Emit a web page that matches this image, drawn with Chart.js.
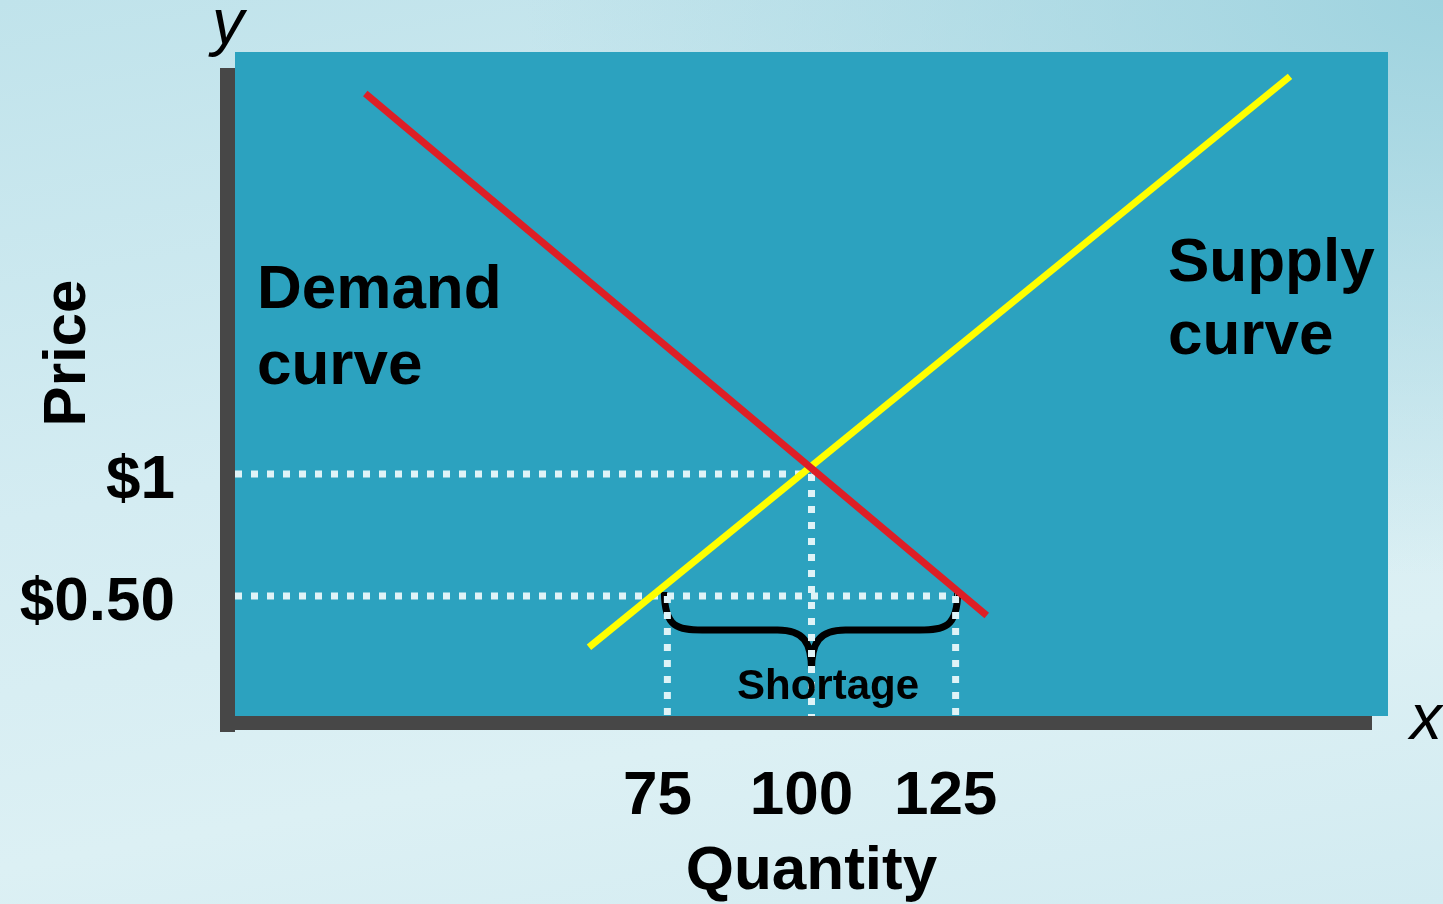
<!DOCTYPE html>
<html>
<head>
<meta charset="utf-8">
<script src="https://cdn.jsdelivr.net/npm/chart.js@4.4.0/dist/chart.umd.min.js"></script>
<style>
  html, body { margin: 0; padding: 0; }
  body {
    width: 1443px; height: 904px; overflow: hidden;
    background:
      radial-gradient(ellipse at 100% 0%, #9fd3df 0%, rgba(159,211,223,0) 45%),
      linear-gradient(170deg, #c0e3eb 0%, #d4ecf2 45%, #dcf0f4 75%, #d2ebf1 100%);
  }
  #wrap { position: absolute; left: 0; top: 0; width: 1443px; height: 904px; }
</style>
</head>
<body>
<div id="wrap"><canvas id="chart" width="1443" height="904"></canvas></div>
<script>
// line endpoints (quantity, price)
const demandQty = [22.6, 130.4];
const demandPrice = [2.56, 0.42];
const supplyQty = [61.4, 183.0];
const supplyPrice = [0.29, 2.63];

// guide values
const eqQty = 100;
const eqPrice = 1;
const lowPrice = 0.5;
const qtyDemanded = 125;
const qtySupplied = 75;

const qtyTicks = [75, 100, 125];
const qtyTickLabels = ['75', '100', '125'];
const priceTicks = [0.5, 1];
const priceTickLabels = ['$0.50', '$1'];

const FONT = "'Liberation Sans', Arial, sans-serif";
const TEAL = '#2ca2bf';
const DARK = '#474747';
const DOT = '#dff3f7';

const toPts = (xs, ys) => xs.map((x, i) => ({ x: x, y: ys[i] }));

const dotted = (data) => ({
  data: data,
  borderColor: DOT,
  borderWidth: 7,
  borderDash: [7, 9],
  pointRadius: 0,
  fill: false
});

const plotBox = {
  id: 'plotBox',
  beforeDraw(chart) {
    const { ctx, chartArea: a } = chart;
    ctx.save();
    ctx.fillStyle = DARK;
    ctx.fillRect(a.left - 15, a.top + 16, 15, a.bottom - a.top);
    ctx.fillRect(a.left - 15, a.bottom, a.right - a.left - 1, 14);
    ctx.fillStyle = TEAL;
    ctx.fillRect(a.left, a.top, a.right - a.left, a.bottom - a.top);
    ctx.restore();
  },
  beforeDatasetsDraw(chart) {
    const { ctx, scales: { x, y } } = chart;
    const xl = x.getPixelForValue(qtySupplied) - 3;
    const xr = x.getPixelForValue(qtyDemanded) + 2;
    const xm = x.getPixelForValue(eqQty);
    const y0 = y.getPixelForValue(lowPrice) - 4;
    ctx.save();
    // brace
    ctx.strokeStyle = '#000';
    ctx.lineWidth = 7;
    ctx.lineCap = 'butt';
    ctx.beginPath();
    ctx.moveTo(xl, y0);
    ctx.bezierCurveTo(xl, y0 + 36, xl + 14, y0 + 38, xl + 38, y0 + 38);
    ctx.lineTo(xm - 34, y0 + 38);
    ctx.bezierCurveTo(xm - 8, y0 + 38, xm, y0 + 50, xm, y0 + 78);
    ctx.moveTo(xm, y0 + 78);
    ctx.bezierCurveTo(xm, y0 + 50, xm + 8, y0 + 38, xm + 34, y0 + 38);
    ctx.lineTo(xr - 38, y0 + 38);
    ctx.bezierCurveTo(xr - 14, y0 + 38, xr, y0 + 36, xr, y0);
    ctx.stroke();
    ctx.restore();
  },
  afterDraw(chart) {
    const { ctx } = chart;
    ctx.save();
    ctx.fillStyle = '#000';
    ctx.textBaseline = 'alphabetic';
    ctx.textAlign = 'left';
    ctx.font = 'bold 42px ' + FONT;
    ctx.fillText('Shortage', 737, 699);
    ctx.font = 'bold 62px ' + FONT;
    ctx.fillText('Demand', 257, 308);
    ctx.fillText('curve', 257, 384);
    ctx.fillText('Supply', 1168, 281);
    ctx.fillText('curve', 1168, 354);
    ctx.font = 'italic 64px ' + FONT;
    ctx.fillText('y', 212, 44);
    ctx.fillText('x', 1410, 739);
    // rotated axis title
    ctx.font = 'bold 60px ' + FONT;
    ctx.translate(85, 353);
    ctx.rotate(-Math.PI / 2);
    ctx.textAlign = 'center';
    ctx.fillText('Price', 0, 0);
    ctx.restore();
  }
};

new Chart(document.getElementById('chart'), {
  type: 'line',
  data: {
    datasets: [
      {
        label: 'Demand',
        data: toPts(demandQty, demandPrice),
        borderColor: '#dd1f26',
        borderWidth: 7,
        pointRadius: 0,
        fill: false
      },
      {
        label: 'Supply',
        data: toPts(supplyQty, supplyPrice),
        borderColor: '#ffff00',
        borderWidth: 7,
        pointRadius: 0,
        fill: false
      },
      dotted([{ x: 0, y: eqPrice }, { x: eqQty, y: eqPrice }]),
      dotted([{ x: eqQty, y: eqPrice }, { x: eqQty, y: 0 }]),
      dotted([{ x: 0, y: lowPrice }, { x: qtyDemanded, y: lowPrice }]),
      dotted([{ x: qtySupplied, y: lowPrice }, { x: qtySupplied, y: 0 }]),
      dotted([{ x: qtyDemanded, y: lowPrice }, { x: qtyDemanded, y: 0 }])
    ]
  },
  options: {
    responsive: false,
    animation: false,
    devicePixelRatio: 1,
    layout: { padding: { left: 0, top: 52, right: 55, bottom: 0 } },
    plugins: { legend: { display: false }, tooltip: { enabled: false } },
    scales: {
      x: {
        type: 'linear',
        min: 0,
        max: 200,
        afterFit: (s) => { s.height = 188; s.paddingLeft = 0; s.paddingRight = 0; },
        afterBuildTicks: (s) => { s.ticks = qtyTicks.map(v => ({ value: v })); },
        grid: { display: false, drawTicks: false },
        border: { display: false },
        ticks: {
          autoSkip: false,
          maxRotation: 0,
          padding: 44,
          labelOffset: -10,
          color: '#000',
          font: { family: FONT, size: 62, weight: 'bold', lineHeight: 1.2 },
          callback: (v) => qtyTickLabels[qtyTicks.indexOf(v)]
        },
        title: {
          display: true,
          text: 'Quantity',
          color: '#000',
          font: { family: FONT, size: 62, weight: 'bold', lineHeight: 1 },
          padding: { top: 0, bottom: 1 }
        }
      },
      y: {
        type: 'linear',
        min: 0.008,
        max: 2.73,
        afterFit: (s) => { s.width = 235; s.paddingTop = 0; s.paddingBottom = 0; },
        afterBuildTicks: (s) => { s.ticks = priceTicks.map(v => ({ value: v })); },
        grid: { display: false, drawTicks: false },
        border: { display: false },
        ticks: {
          autoSkip: false,
          padding: 60,
          labelOffset: 7,
          color: '#000',
          font: { family: FONT, size: 62, weight: 'bold' },
          callback: (v) => priceTickLabels[priceTicks.indexOf(v)]
        }
      }
    }
  },
  plugins: [plotBox]
});
</script>
</body>
</html>
